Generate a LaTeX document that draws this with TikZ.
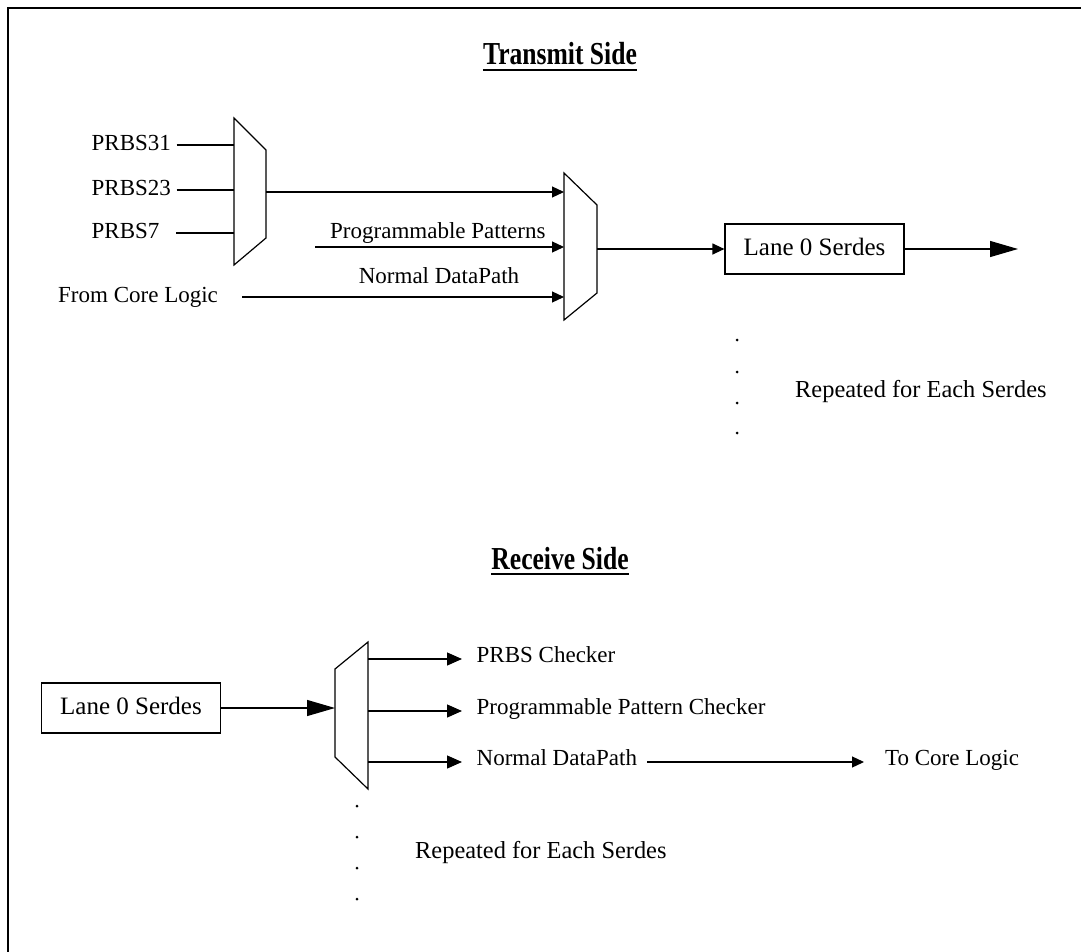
\documentclass[tikz,border=0pt]{standalone}
\usepackage{fontspec}
\setmainfont{Liberation Serif}
\usepackage{graphicx}
\usetikzlibrary{arrows.meta}

\tikzset{
  wire/.style={line width=1.2pt},
  arrS/.style={wire,-{Triangle[length=12pt,width=11pt]}},
  arrM/.style={wire,-{Triangle[length=15pt,width=13pt]}},
  arrL/.style={wire,-{Triangle[length=28pt,width=16pt]}},
  muxshape/.style={line width=1.2pt, line join=miter},
  lbl/.style={inner sep=2.5pt, font=\fontsize{23}{27}\selectfont,
              text height=16pt, text depth=5pt},
  replbl/.style={lbl, anchor=west, font=\fontsize{24.4}{28}\selectfont},
  serdes/.style={draw, line width=1.2pt, minimum width=179pt,
                 minimum height=50pt, inner sep=0pt,
                 font=\fontsize{25}{30}\selectfont,
                 text height=17.5pt, text depth=5.5pt},
  heading/.style={inner sep=0pt, anchor=base,
                  font=\fontsize{32}{36}\selectfont\bfseries},
  uline/.style={line width=2.5pt},
  dot/.style={circle, fill, inner sep=0pt, minimum size=3pt}
}

\begin{document}
\begin{tikzpicture}[x=1pt,y=-1pt]
\useasboundingbox (0,0) rectangle (1081,952);

% outer frame (runs off the right and bottom edges)
\draw[line width=2.6pt] (8,952) -- (8,8) -- (1081,8);

% ---------------- transmit side ----------------
\node[heading] (txhead) at (560,65) {\scalebox{0.8}[1]{Transmit Side}};
\draw[uline] ([yshift=-5pt]txhead.base west) -- ([yshift=-5pt]txhead.base east);

% PRBS selector
\draw[muxshape] (234,118) -- (266,150) -- (266,238) -- (234,265) -- cycle;
\coordinate (m1in1) at (234,145);
\coordinate (m1in2) at (234,190);
\coordinate (m1in3) at (234,233);
\coordinate (m1out) at (266,192);

% source selector
\draw[muxshape] (564,173) -- (597,205) -- (597,293) -- (564,320) -- cycle;
\coordinate (m2in1) at (564,192);
\coordinate (m2in2) at (564,247);
\coordinate (m2in3) at (564,297);
\coordinate (m2out) at (597,249);

\node[lbl, anchor=west] (p31) at (89,145) {PRBS31};
\node[lbl, anchor=west] (p23) at (89,190) {PRBS23};
\node[lbl, anchor=west] (p7)  at (89,233) {PRBS7};
\draw[wire] ([xshift=3pt]p31.east) -- (m1in1);
\draw[wire] ([xshift=3pt]p23.east) -- (m1in2);
\draw[wire] ([xshift=14pt]p7.east) -- (m1in3);

\draw[arrS] (m1out) -- (m2in1);

\node[lbl, anchor=west] (progpat) at (327.5,232.5) {Programmable Patterns};
\coordinate (pgstart) at (315,247);
\draw[arrS] (pgstart) -- (m2in2);

\node[lbl] (ndtx) at (439,278) {Normal DataPath};
\node[lbl, anchor=west] (fcl) at (55.5,297) {From Core Logic};
\draw[arrS] ([xshift=21.5pt]fcl.east) -- (m2in3);

\node[serdes] (lanetx) at (814.5,249) {Lane 0 Serdes};
\draw[arrS] (m2out) -- (lanetx.west);
\coordinate (txout) at (1018,249);
\draw[arrL] (lanetx.east) -- (txout);

\node[dot] (tdot1) at (737,340) {};
\node[dot] (tdot2) at (737,372) {};
\node[dot] (tdot3) at (737,403) {};
\node[dot] (tdot4) at (737,433) {};
\node[replbl] (reptx) at (792.5,392) {Repeated for Each Serdes};

% ---------------- receive side ----------------
\node[heading] (rxhead) at (560,569) {\scalebox{0.8}[1]{Receive Side}};
\draw[uline] ([yshift=-5pt]rxhead.base west) -- ([yshift=-5pt]rxhead.base east);

\node[serdes] (lanerx) at (131,708) {Lane 0 Serdes};

% receive demultiplexer
\draw[muxshape] (335,669) -- (368,642) -- (368,789) -- (335,757) -- cycle;
\coordinate (m3in) at (335,708);
\coordinate (m3out1) at (368,659);
\coordinate (m3out2) at (368,711);
\coordinate (m3out3) at (368,762);

\draw[arrL] (lanerx.east) -- (m3in);

\node[lbl, anchor=west] (chk) at (474,657) {PRBS Checker};
\node[lbl, anchor=west] (ppchk) at (474,709) {Programmable Pattern Checker};
\node[lbl, anchor=west] (ndrx) at (474,760) {Normal DataPath};
\node[lbl, anchor=west] (tcl) at (882.5,760) {To Core Logic};

% arrow tips just in front of each checker label
\coordinate (chkin) at (462,659);
\coordinate (ppchkin) at (462,711);
\coordinate (ndrxin) at (462,762);
\coordinate (ndrxout) at (647,762);
\coordinate (tclin) at (864,762);

\draw[arrM] (m3out1) -- (chkin);
\draw[arrM] (m3out2) -- (ppchkin);
\draw[arrM] (m3out3) -- (ndrxin);
\draw[arrS] (ndrxout) -- (tclin);

\node[dot] (rdot1) at (357,806) {};
\node[dot] (rdot2) at (357,837) {};
\node[dot] (rdot3) at (357,868) {};
\node[dot] (rdot4) at (357,899) {};
\node[replbl] (reprx) at (412.5,853) {Repeated for Each Serdes};
\end{tikzpicture}
\end{document}
